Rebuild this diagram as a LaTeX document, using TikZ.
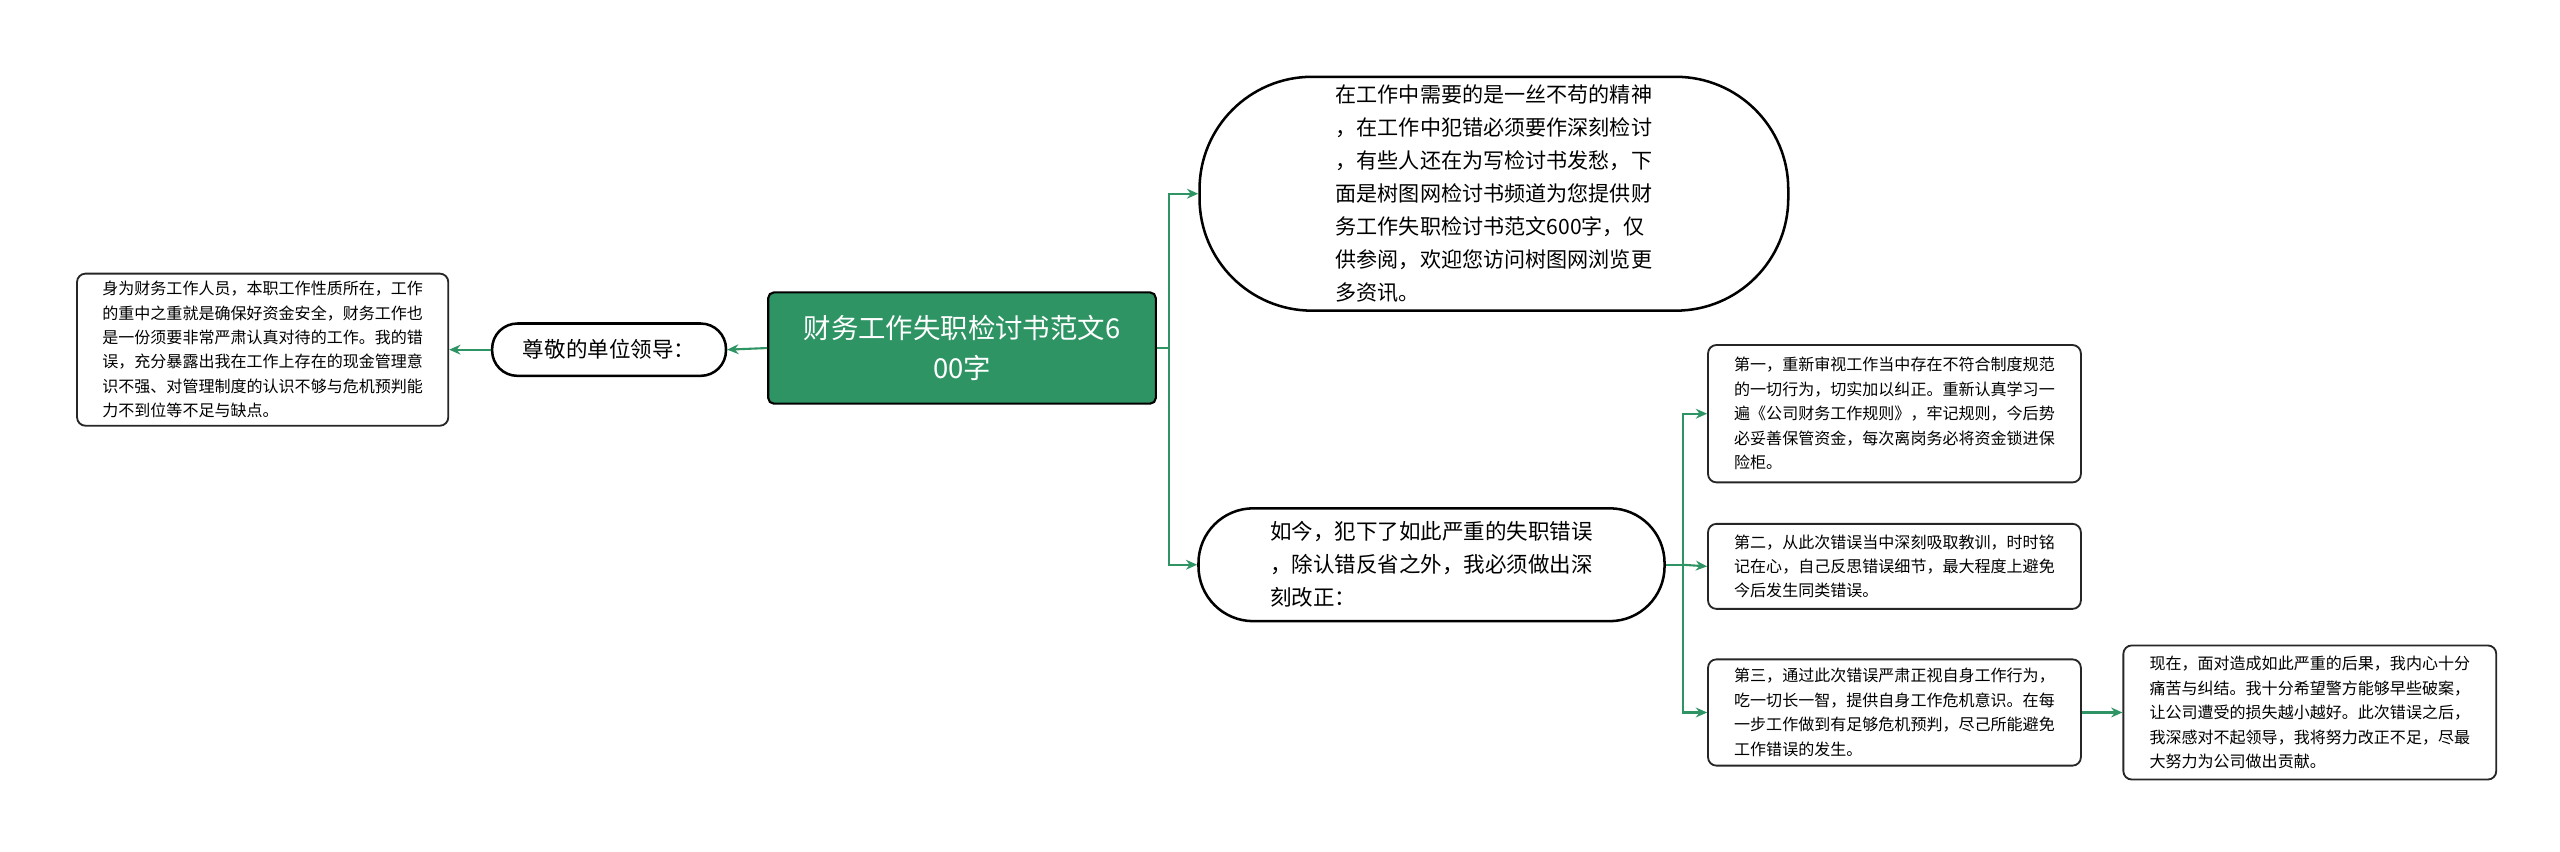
\documentclass[tikz,border=0pt]{standalone}
\usepackage{fontspec}
\setmainfont{Noto Sans CJK SC}
\usetikzlibrary{arrows.meta}
\definecolor{gr}{HTML}{2E9464}
\tikzset{
  box/.style={draw=black!85,line width=1.3pt,rounded corners=6pt,fill=white,align=left,inner sep=0pt,font=\fontsize{11.4}{17.4}\selectfont},
  pill/.style={draw=black,line width=1.8pt,rounded corners=#1,fill=white,align=left,inner sep=0pt},
  conn/.style={draw=gr,line width=1.5pt,-{Stealth[length=8pt,width=7pt]}}
}
\begin{document}
\begin{tikzpicture}[x=0.025cm,y=-0.025cm]
\useasboundingbox (0,0) rectangle (2560,851);
\begin{scope}[x=0.041026cm,y=-0.041026cm]
\node[draw=black,line width=1.5pt,rounded corners=4pt,fill=gr,minimum width=237*1.163pt,minimum height=68*1.163pt,text=white,align=center,font=\fontsize{19.5}{28}\selectfont] (root) at (586,212) {财务工作失职检讨书范文6\\00字};
\node[pill=80pt,minimum width=360*1.163pt,minimum height=143*1.163pt,font=\fontsize{15}{23.5}\selectfont] (top) at (910,118) {在工作中需要的是一丝不苟的精神\\，在工作中犯错必须要作深刻检讨\\，有些人还在为写检讨书发愁，下\\面是树图网检讨书频道为您提供财\\务工作失职检讨书范文600字，仅\\供参阅，欢迎您访问树图网浏览更\\多资讯。};
\node[pill=39pt,minimum width=285*1.163pt,minimum height=69*1.163pt,font=\fontsize{15.3}{23.5}\selectfont] (mid) at (872,344) {如今，犯下了如此严重的失职错误\\，除认错反省之外，我必须做出深\\刻改正：};
\node[pill=18pt,minimum width=143*1.163pt,minimum height=32*1.163pt,align=center,font=\fontsize{15.3}{20}\selectfont] (zj) at (371,213) {尊敬的单位领导：};
\node[box,minimum width=227*1.163pt,minimum height=93*1.163pt] (lb) at (160,213) {身为财务工作人员，本职工作性质所在，工作\\的重中之重就是确保好资金安全，财务工作也\\是一份须要非常严肃认真对待的工作。我的错\\误，充分暴露出我在工作上存在的现金管理意\\识不强、对管理制度的认识不够与危机预判能\\力不到位等不足与缺点。};
\node[box,minimum width=228*1.163pt,minimum height=84*1.163pt] (b1) at (1154,252) {第一，重新审视工作当中存在不符合制度规范\\的一切行为，切实加以纠正。重新认真学习一\\遍《公司财务工作规则》，牢记规则，今后势\\必妥善保管资金，每次离岗务必将资金锁进保\\险柜。};
\node[box,minimum width=228*1.163pt,minimum height=52*1.163pt] (b2) at (1154,345) {第二，从此次错误当中深刻吸取教训，时时铭\\记在心，自己反思错误细节，最大程度上避免\\今后发生同类错误。};
\node[box,minimum width=228*1.163pt,minimum height=65*1.163pt] (b3) at (1154,434) {第三，通过此次错误严肃正视自身工作行为，\\吃一切长一智，提供自身工作危机意识。在每\\一步工作做到有足够危机预判，尽己所能避免\\工作错误的发生。};
\node[box,minimum width=228*1.163pt,minimum height=82*1.163pt] (b4) at (1407,434) {现在，面对造成如此严重的后果，我内心十分\\痛苦与纠结。我十分希望警方能够早些破案，\\让公司遭受的损失越小越好。此次错误之后，\\我深感对不起领导，我将努力改正不足，尽最\\大努力为公司做出贡献。};
\coordinate (j1) at (712,212);
\coordinate (j2) at (1025,344);
\draw[conn] (root.east) -- (j1) |- (top.west);
\draw[conn] (j1) |- (mid.west);
\draw[conn] (root.west) -- (zj.east);
\draw[conn] (zj.west) -- (lb.east);
\draw[conn] (mid.east) -- (j2) |- (b1.west);
\draw[conn] (j2) -- (b2.west);
\draw[conn] (j2) |- (b3.west);
\draw[conn] (b3.east) -- (b4.west);
\end{scope}
\end{tikzpicture}
\end{document}
